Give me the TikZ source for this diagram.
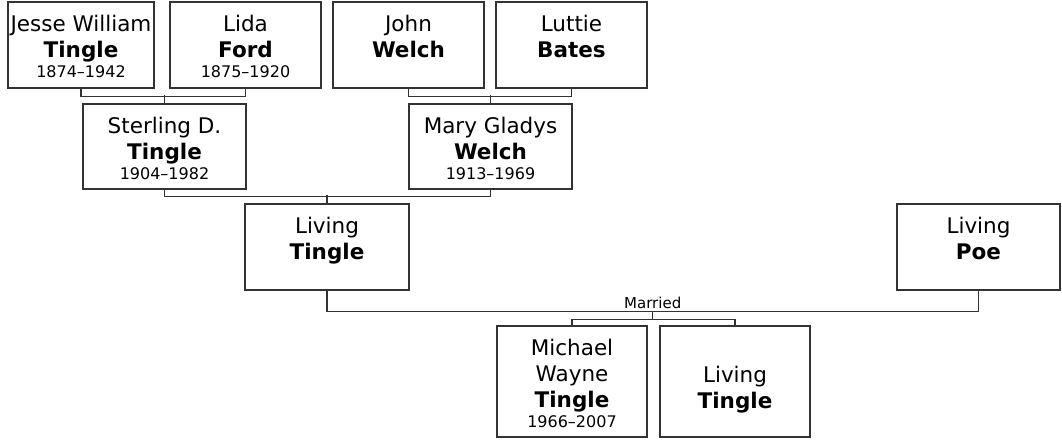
\documentclass[tikz,border=0pt]{standalone}
\usepackage{fontspec}
\setmainfont{DejaVu Sans}
\usetikzlibrary{calc,positioning}
\definecolor{treeLine}{HTML}{333333}
% box text: top offset, height, width, body
\newcommand{\card}[4][29pt]{%
  \parbox[c][#2][t]{#3}{\centering\fontsize{21.5}{26}\selectfont\rule{0pt}{#1}#4}}
\newcommand{\yrs}[1]{\par{\fontsize{16}{20}\selectfont #1\par}}

\begin{document}
\begin{tikzpicture}[x={(1pt,0)},y={(0,-1pt)},
  person/.style={draw=treeLine,fill=white,line width=1.3pt,inner sep=0pt},
  link/.style={draw=treeLine,line width=1.3pt},
  wed/.style={font=\fontsize{15}{18}\selectfont,inner sep=2pt}]
  \useasboundingbox (0,0) rectangle (1062,440);

  % grandparents
  \node[person] (jesse)  at (81,45)    {\card{86pt}{146pt}{Jesse William\\\textbf{Tingle}\yrs{1874–1942}}};
  \node[person] (lida)   at (245.5,45) {\card{86pt}{151pt}{Lida\\\textbf{Ford}\yrs{1875–1920}}};
  \node[person] (john)   at (408.5,45) {\card{86pt}{151pt}{John\\\textbf{Welch}}};
  \node[person] (luttie) at (571.5,45) {\card{86pt}{151pt}{Luttie\\\textbf{Bates}}};

  % parents
  \node[person] (sterling) at (164.5,146.5) {\card{85pt}{163pt}{Sterling D.\\\textbf{Tingle}\yrs{1904–1982}}};
  \node[person] (mary)     at (490.5,146.5) {\card{85pt}{163pt}{Mary Gladys\\\textbf{Welch}\yrs{1913–1969}}};

  % couple
  \node[person] (livt) at (327,247)   {\card{86pt}{164pt}{Living\\\textbf{Tingle}}};
  \node[person] (poe)  at (978.5,247) {\card{86pt}{163pt}{Living\\\textbf{Poe}}};

  % children
  \node[person] (michael) at (572,381.5) {\card{111pt}{150pt}{Michael\\Wayne\\\textbf{Tingle}\yrs{1966–2007}}};
  \node[person] (liv2)    at (735,381.5) {\card[56pt]{111pt}{150pt}{Living\\\textbf{Tingle}}};

  \draw[link] (jesse.south) -- ++(0,8) -| (lida.south);
  \draw[link] (sterling.north) -- ++(0,-8);
  \draw[link] (john.south) -- ++(0,8) -| (luttie.south);
  \draw[link] (mary.north) -- ++(0,-8);
  \draw[link] (sterling.south) -- ++(0,7) -| (mary.south);
  \draw[link] (livt.north) -- ++(0,-8);

  \draw[link] (livt.south) -- ++(0,21) coordinate (wl)
    -- (wl -| poe.south) coordinate[pos=0.5] (mid)
       node[wed,pos=0.5,above] (married) {Married}
    -- (poe.south);
  \draw[link] (michael.north) -- ++(0,-6) coordinate (kl) -| (liv2.north);
  \draw[link] (mid) -- (mid |- kl);
\end{tikzpicture}
\end{document}
